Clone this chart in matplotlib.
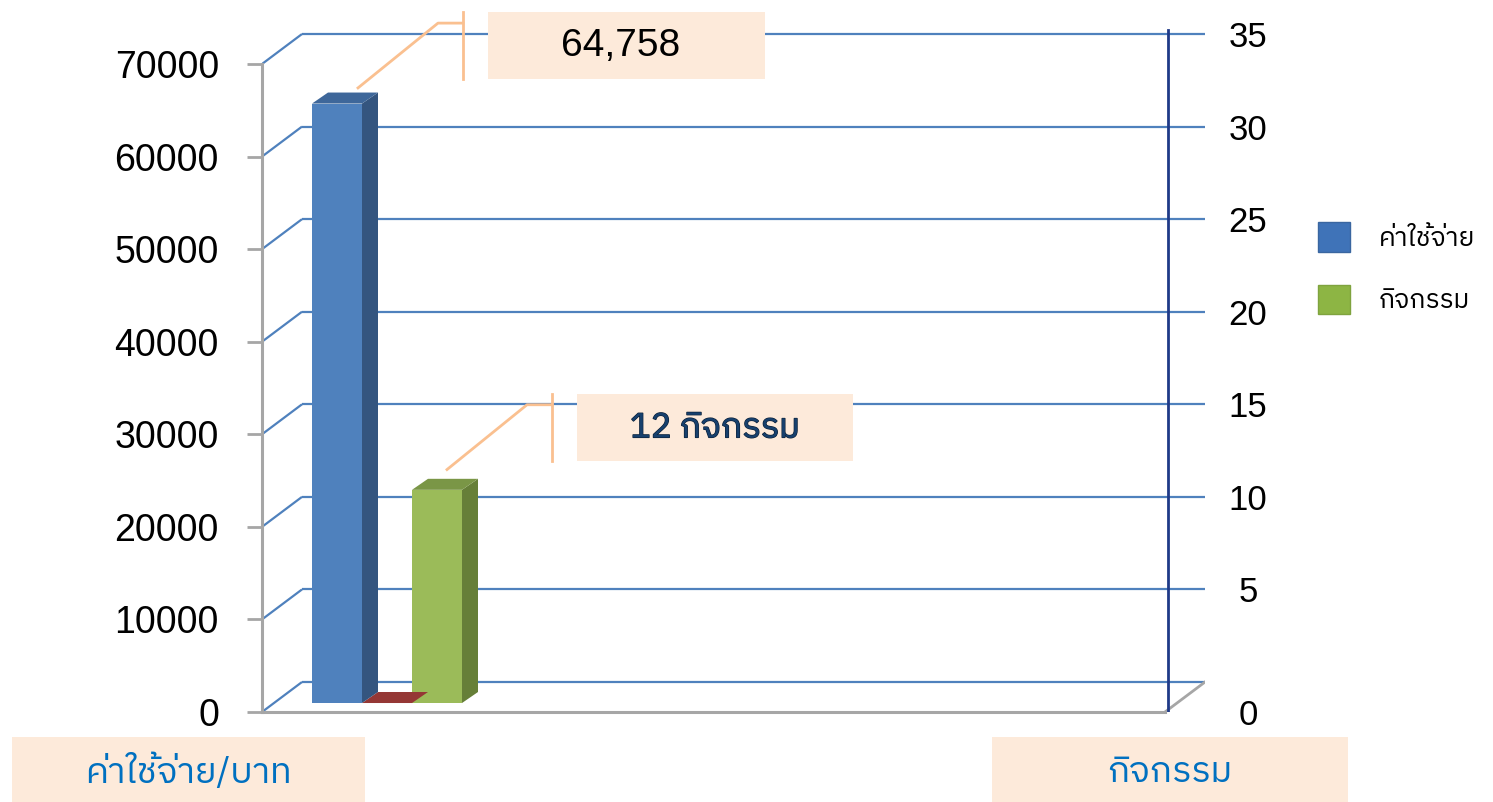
import matplotlib
matplotlib.use("Agg")
import matplotlib.pyplot as plt
from matplotlib import font_manager as fm
from matplotlib.patches import Polygon, Rectangle, Patch
import matplotlib.patheffects as pe

# ---------------- data ----------------
series_names = ["ค่าใช้จ่าย", "", "กิจกรรม"]
expense_values = [64758]          # left axis (บาท)
hidden_values = [0]               # small red series
activity_values = [12]            # right axis (กิจกรรม)
left_ticks = [0, 10000, 20000, 30000, 40000, 50000, 60000, 70000]
right_ticks = [0, 5, 10, 15, 20, 25, 30, 35]
label_expense = "64,758"
label_activity = "12 กิจกรรม"
left_title = "ค่าใช้จ่าย/บาท"
right_title = "กิจกรรม"

# ---------------- fonts ----------------
def find_thai_fonts():
    names = []
    try:
        from fontTools.ttLib import TTFont
    except Exception:
        return names
    for f in fm.fontManager.ttflist:
        try:
            kw = {"fontNumber": 0} if f.fname.lower().endswith((".ttc", ".otc")) else {}
            tt = TTFont(f.fname, lazy=True, **kw)
            cmap = tt.getBestCmap()
            if cmap and 0x0E01 in cmap and 0x0E48 in cmap:
                if f.name not in names:
                    names.append(f.name)
        except Exception:
            pass
    return names

thai = find_thai_fonts()
pref = [n for n in thai if "Thai" in n and "Looped" not in n] + [n for n in thai]
thai_family = [pref[0], "DejaVu Sans"] if pref else ["DejaVu Sans"]
latin = "Liberation Sans"
plt.rcParams["font.family"] = [latin] + thai_family

# ---------------- geometry (data units) ----------------
W, H = 1493, 802
px_y = 9.257 / 1000.0          # pixels per left-axis unit
depth_dx, depth_dy = 0.8, 3240  # back-wall offset
floor_len = 18.06
bar_w = 1.0
bar_dx, bar_dy = 0.32, 1190
bar_base = 970
ratio = 70000 / 35

fig = plt.figure(figsize=(W / 100, H / 100), dpi=100)
ax_left, ax_right_px = 262, 1205
ax_bottom_px = 712
ax = fig.add_axes([ax_left / W, (H - ax_bottom_px) / H,
                   (ax_right_px - ax_left) / W, ax_bottom_px / H])
xmax = (ax_right_px - ax_left) / 50.0
ymax = ax_bottom_px / px_y
ax.set_xlim(0, xmax)
ax.set_ylim(0, ymax)
ax.patch.set_alpha(0)

grid_c = "#4F81BD"
gray = "#A6A6A6"

# side-wall diagonals and back-wall gridlines
for v in left_ticks:
    ax.plot([0, depth_dx], [v, v + depth_dy], color=grid_c, lw=1.6, zorder=1,
            solid_capstyle="butt")
    ax.plot([depth_dx, xmax], [v + depth_dy, v + depth_dy], color=grid_c,
            lw=1.6, zorder=1, solid_capstyle="butt")
# floor right edge
ax.plot([floor_len, floor_len + depth_dx], [0, depth_dy], color=gray, lw=2, zorder=1)
# secondary axis line
ax.plot([floor_len + 0.06, floor_len + 0.06], [0, 73700], color="#1F3A88", lw=2, zorder=2)

# spines
for s in ["top", "right"]:
    ax.spines[s].set_visible(False)
ax.spines["left"].set_bounds(0, 70000)
ax.spines["bottom"].set_bounds(0, floor_len)
for s in ["left", "bottom"]:
    ax.spines[s].set_color(gray)
    ax.spines[s].set_linewidth(2.2)
ax.set_xticks([])
ax.set_yticks(left_ticks)
ax.set_yticklabels([str(t) for t in left_ticks], fontsize=27, family=latin)
ax.tick_params(axis="y", length=11, width=2, color=gray, pad=20)


def bar3d(x0, value_top, front, side, top, z=3):
    ax.bar(x0, value_top - bar_base, bar_w, bottom=bar_base, align="edge",
           color=front, zorder=z, linewidth=0)
    ax.add_patch(Polygon([(x0 + bar_w, bar_base), (x0 + bar_w + bar_dx, bar_base + bar_dy),
                          (x0 + bar_w + bar_dx, value_top + bar_dy), (x0 + bar_w, value_top)],
                         closed=True, facecolor=side, edgecolor="none", zorder=z))
    ax.add_patch(Polygon([(x0, value_top), (x0 + bar_dx, value_top + bar_dy),
                          (x0 + bar_w + bar_dx, value_top + bar_dy), (x0 + bar_w, value_top)],
                         closed=True, facecolor=top, edgecolor="none", zorder=z))


x_blue, x_red, x_green = 1.0, 2.0, 3.0
blue_top = bar_base + expense_values[0]
red_top = bar_base + hidden_values[0]
green_top = activity_values[0] * ratio

bar3d(x_green, green_top, "#9BBB59", "#667F38", "#7A9646")
bar3d(x_red, red_top, "#953735", "#7A2C2A", "#953735")
bar3d(x_blue, blue_top, "#4F81BD", "#34557F", "#3E679A")

# ---------------- callouts ----------------
lead_c = "#FAC090"
box_c = "#FDEADA"


def callout(xs, ys, box_w, text, text_dx=0.0, **tkw):
    ex, ey = xs + 1.6, ys + 7000
    hx = ex + 0.5
    yc = ey - 2450
    half = 3600
    ax.plot([xs, ex, hx], [ys, ey, ey], color=lead_c, lw=2, zorder=5, clip_on=False)
    ax.plot([hx, hx], [yc - half, yc + half], color=lead_c, lw=2, zorder=5, clip_on=False)
    bx = hx + 0.5
    ax.add_patch(Rectangle((bx, yc - half), box_w, 2 * half, facecolor=box_c,
                           edgecolor="none", zorder=5, clip_on=False))
    ax.text(bx + box_w / 2 + text_dx, yc, text, ha="center", va="center", zorder=6, **tkw)


callout(x_blue + 0.92, blue_top + bar_dy + 500, 5.54, label_expense, text_dx=-0.12,
        fontsize=28, color="black", family=latin)
callout(x_green + 0.7, green_top + bar_dy + 1000, 5.52, label_activity,
        fontsize=25, color="#17406D", family=thai_family,
        path_effects=[pe.withStroke(linewidth=0.9, foreground="#0B1F36")])

# ---------------- secondary axis ----------------
ax2 = ax.twinx()
ax2.set_ylim((0 - depth_dy) / ratio, (ymax - depth_dy) / ratio)
pos = [(-depth_dy / ratio) if t == 0 else t for t in right_ticks]
ax2.set_yticks(pos)
ax2.set_yticklabels([str(t) for t in right_ticks], fontsize=25, family=latin, ha="center")
ax2.tick_params(axis="y", length=0, pad=31)
for s in ax2.spines.values():
    s.set_visible(False)

# ---------------- legend ----------------
handles = [Patch(facecolor="#3F73B8", edgecolor="#3A66A0"),
           Patch(facecolor="#8DB544", edgecolor="#7FA33E")]
fig.legend(handles, [series_names[0], series_names[2]], loc="upper left",
           bbox_to_anchor=(1318 / W, 1 - 222 / H), frameon=False,
           prop={"family": thai_family, "size": 19}, handlelength=1.2,
           handleheight=1.35, handletextpad=1.1, labelspacing=1.25,
           borderpad=0, borderaxespad=0)

# ---------------- bottom titles ----------------
for (x0, x1, txt) in [(12, 365, left_title), (992, 1348, right_title)]:
    fig.patches.append(Rectangle((x0 / W, 0), (x1 - x0) / W, (802 - 737) / H,
                                 transform=fig.transFigure, facecolor=box_c,
                                 edgecolor="none", zorder=0))
    fig.text((x0 + x1) / 2 / W, 1 - 772 / H, txt, ha="center", va="center",
             fontsize=26, color="#0070C0", family=thai_family)

fig.savefig("out.png", dpi=100)
